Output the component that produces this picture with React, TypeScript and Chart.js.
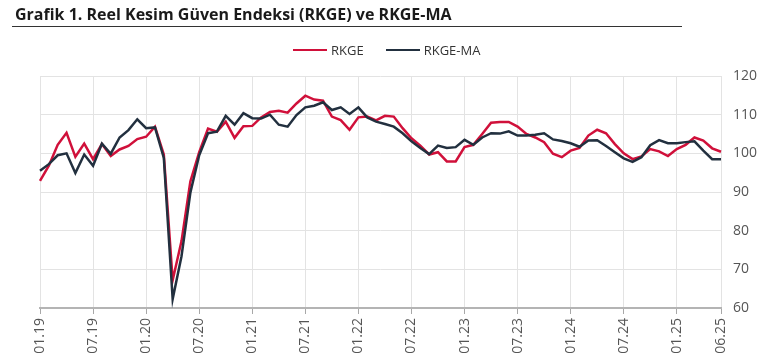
import React, { useEffect, useRef } from "react";
import { Chart, registerables } from "chart.js";

Chart.register(...registerables);

const months: string[] = [
  "01.19","02.19","03.19","04.19","05.19","06.19","07.19","08.19","09.19","10.19","11.19","12.19",
  "01.20","02.20","03.20","04.20","05.20","06.20","07.20","08.20","09.20","10.20","11.20","12.20",
  "01.21","02.21","03.21","04.21","05.21","06.21","07.21","08.21","09.21","10.21","11.21","12.21",
  "01.22","02.22","03.22","04.22","05.22","06.22","07.22","08.22","09.22","10.22","11.22","12.22",
  "01.23","02.23","03.23","04.23","05.23","06.23","07.23","08.23","09.23","10.23","11.23","12.23",
  "01.24","02.24","03.24","04.24","05.24","06.24","07.24","08.24","09.24","10.24","11.24","12.24",
  "01.25","02.25","03.25","04.25","05.25","06.25",
];

const rkge: number[] = [
  92.9, 96.8, 102.2, 105.3, 99.1, 102.5, 98.5, 102.4, 99.3, 101.0, 101.9, 103.7,
  104.3, 106.9, 99.7, 67.2, 77.3, 92.7, 100.3, 106.4, 105.6, 108.2, 104.0, 107.0,
  107.1, 109.3, 110.7, 111.0, 110.5, 112.9, 114.9, 113.9, 113.6, 109.5, 108.6, 106.1,
  109.3, 109.5, 108.5, 109.7, 109.5, 106.5, 103.9, 102.0, 99.7, 100.3, 97.9, 97.9,
  101.6, 102.2, 105.0, 107.9, 108.1, 108.1, 106.9, 105.0, 104.1, 102.9, 99.9, 99.0,
  100.7, 101.4, 104.6, 106.1, 105.2, 102.4, 100.0, 98.5, 99.2, 101.1, 100.5, 99.3,
  101.1, 102.2, 104.1, 103.3, 101.3, 100.4,
];

const rkgeMa: number[] = [
  95.5, 97.2, 99.5, 100.0, 94.9, 99.7, 96.8, 102.5, 99.9, 104.1, 106.0, 108.8,
  106.5, 106.7, 98.8, 62.3, 73.4, 89.8, 99.5, 105.2, 105.6, 109.7, 107.4, 110.4,
  109.1, 109.0, 110.0, 107.4, 106.9, 109.9, 111.9, 112.3, 113.2, 111.2, 111.9, 110.2,
  111.9, 109.3, 108.2, 107.6, 106.9, 105.2, 103.1, 101.4, 99.8, 102.0, 101.4, 101.6,
  103.5, 102.2, 104.1, 105.2, 105.1, 105.7, 104.6, 104.6, 104.8, 105.2, 103.6, 103.2,
  102.6, 101.7, 103.3, 103.4, 101.9, 100.3, 98.7, 97.8, 99.0, 102.1, 103.4, 102.6,
  102.6, 102.9, 103.1, 100.7, 98.5, 98.5,
];

const seriesNames = ["RKGE", "RKGE-MA"];
const yTicks = [60, 70, 80, 90, 100, 110, 120];

const RED = "#d0103a";
const DARK = "#22303f";
const FONT = "'Open Sans', 'Noto Sans', sans-serif";

const isShown = (i: number) => i % 6 === 0 || i === months.length - 1;

export default function App() {
  const ref = useRef<HTMLCanvasElement | null>(null);

  useEffect(() => {
    if (!ref.current) return;
    const chart = new Chart(ref.current, {
      type: "line",
      data: {
        labels: months,
        datasets: [
          {
            label: seriesNames[0],
            data: rkge,
            borderColor: RED,
            backgroundColor: RED,
            borderWidth: 2.5,
            pointRadius: 0,
            tension: 0,
            order: 1,
          },
          {
            label: seriesNames[1],
            data: rkgeMa,
            borderColor: DARK,
            backgroundColor: DARK,
            borderWidth: 2.5,
            pointRadius: 0,
            tension: 0,
            order: 0,
          },
        ],
      },
      options: {
        animation: false,
        responsive: false,
        maintainAspectRatio: false,
        layout: { padding: { top: 76, left: 40, right: 0, bottom: 0 } },
        plugins: {
          legend: { display: false },
          title: { display: false },
          tooltip: { enabled: false },
        },
        scales: {
          x: {
            type: "category",
            offset: false,
            afterFit: (s: any) => {
              s.height = 52;
            },
            grid: {
              color: (c: any) => (isShown(c.index) ? "#e3e3e3" : "rgba(0,0,0,0)"),
              tickColor: (c: any) => (isShown(c.index) ? "#a8a8a8" : "rgba(0,0,0,0)"),
              tickLength: 6,
              lineWidth: 1,
            },
            border: { display: true, color: "#b4b4b4", width: 2 },
            ticks: {
              autoSkip: false,
              minRotation: 90,
              maxRotation: 90,
              padding: 4,
              color: "#555",
              font: { family: FONT, size: 14 },
              callback: (_v: any, i: number) => (isShown(i) ? months[i] : ""),
            },
          },
          y: {
            position: "right",
            min: yTicks[0],
            max: yTicks[yTicks.length - 1],
            afterFit: (s: any) => {
              s.width = 55;
            },
            grid: { color: "#e3e3e3", drawTicks: false, lineWidth: 1 },
            border: { display: false },
            ticks: {
              stepSize: 10,
              padding: 12,
              color: "#555",
              font: { family: FONT, size: 14 },
            },
          },
        },
      },
    });
    return () => chart.destroy();
  }, []);

  return (
    <div style={{ position: "absolute", left: 0, top: 0, width: 776, height: 360, background: "#fff" }}>
      <canvas ref={ref} width={776} height={360} style={{ position: "absolute", left: 0, top: 0, width: 776, height: 360 }} />
      <div
        style={{
          position: "absolute",
          left: 15,
          top: 4,
          fontFamily: FONT,
          fontWeight: 700,
          fontSize: 16,
          lineHeight: "21px",
          color: "#1a1a1a",
          whiteSpace: "nowrap",
        }}
      >
        Grafik 1. Reel Kesim Güven Endeksi (RKGE) ve RKGE-MA
      </div>
      <div style={{ position: "absolute", left: 12, top: 26, width: 670, height: 1, background: "#333" }} />
      <div
        style={{
          position: "absolute",
          left: 293,
          top: 40,
          height: 20,
          display: "flex",
          alignItems: "center",
          fontFamily: FONT,
          fontSize: 13,
          color: "#333",
          whiteSpace: "nowrap",
        }}
      >
        <span style={{ display: "inline-block", width: 34, height: 2.5, background: RED, marginRight: 4 }} />
        <span>{seriesNames[0]}</span>
        <span style={{ display: "inline-block", width: 34, height: 2.5, background: DARK, marginLeft: 22, marginRight: 4 }} />
        <span>{seriesNames[1]}</span>
      </div>
    </div>
  );
}
